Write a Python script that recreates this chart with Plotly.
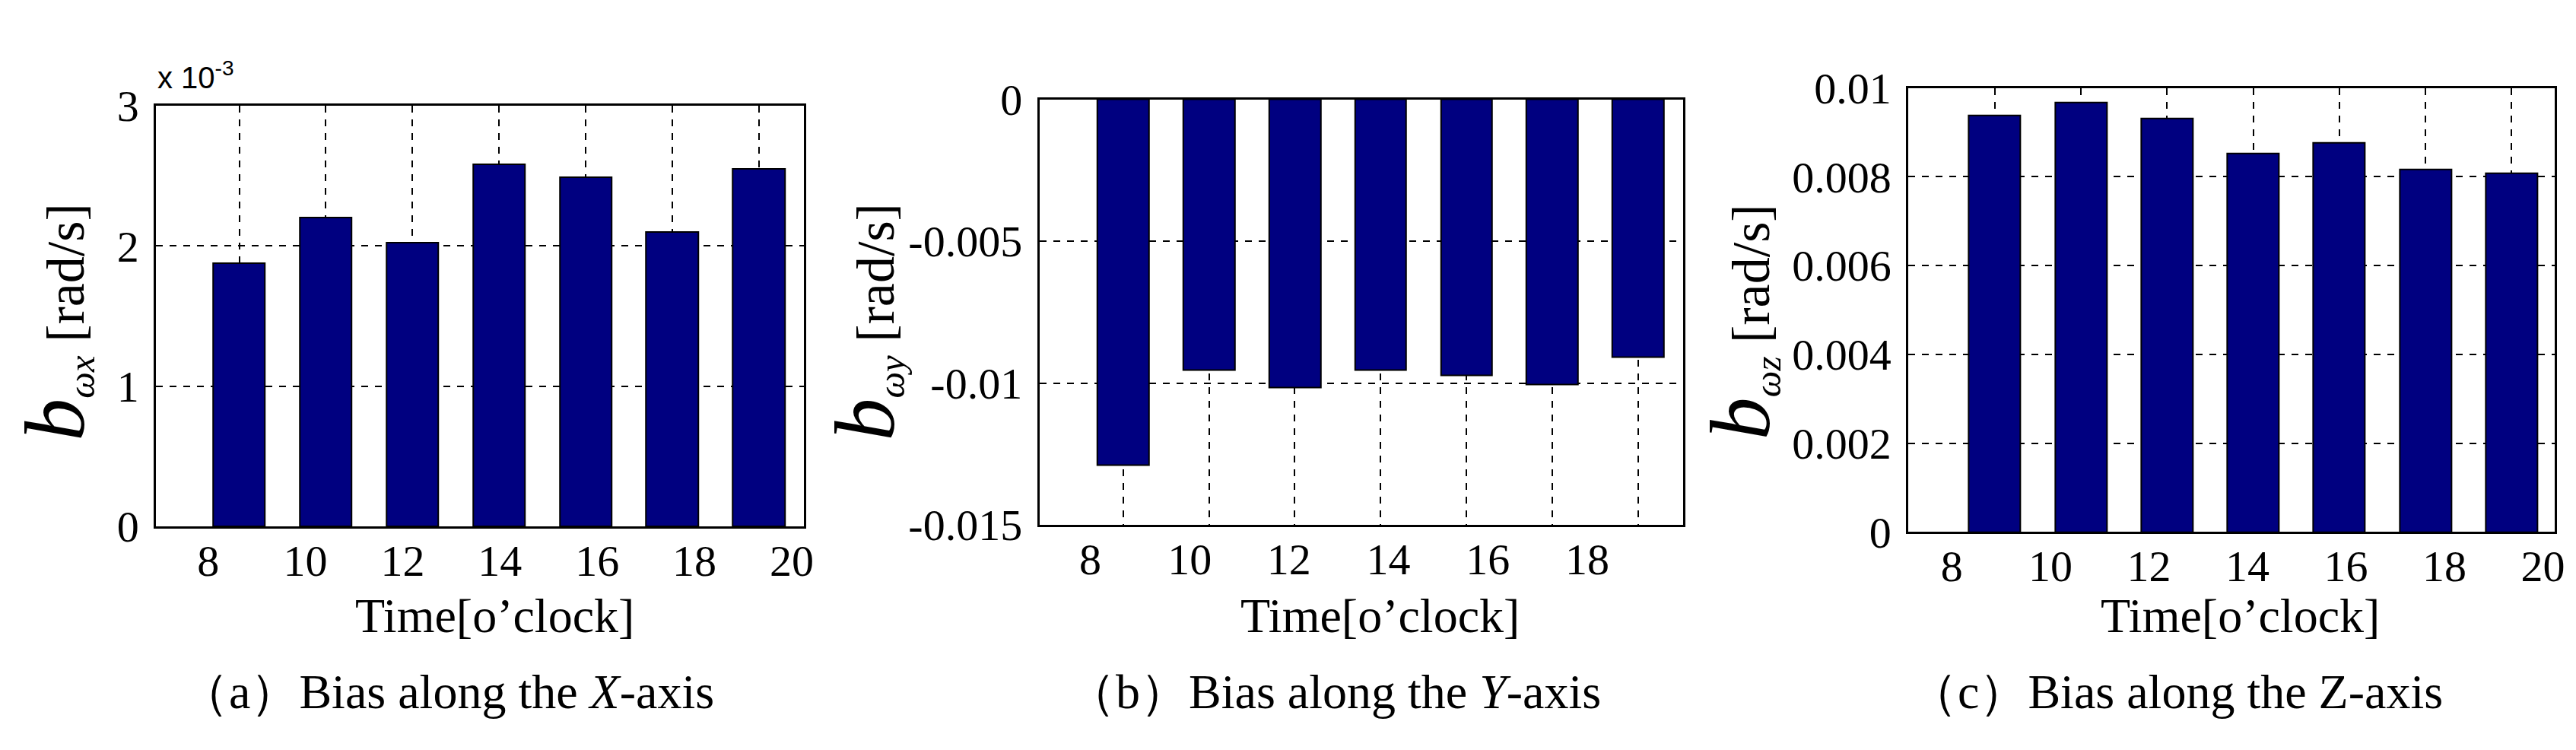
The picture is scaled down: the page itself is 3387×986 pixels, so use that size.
import plotly.graph_objects as go

W, H = 3387, 986

# data
hours = [8, 10, 12, 14, 16, 18, 20]
bias_x = [1.876e-3, 2.20e-3, 2.025e-3, 2.58e-3, 2.49e-3, 2.10e-3, 2.55e-3]
bias_y = [-0.01289, -0.00954, -0.01016, -0.00954, -0.00972, -0.01005, -0.0091]
bias_z = [0.00939, 0.00967, 0.00932, 0.00853, 0.00877, 0.00817, 0.00809]

x_ticks = [8, 10, 12, 14, 16, 18, 20]
y_ticks_a = [0, 1e-3, 2e-3, 3e-3]
y_text_a = ["0", "1", "2", "3"]
y_ticks_b = [0, -0.005, -0.01, -0.015]
y_text_b = ["0", "-0.005", "-0.01", "-0.015"]
y_ticks_c = [0, 0.002, 0.004, 0.006, 0.008, 0.01]
y_text_c = ["0", "0.002", "0.004", "0.006", "0.008", "0.01"]

FONT = "Liberation Serif"
NAVY = "#000080"

panels = [
    # data, px left/right, px top/bottom, bar-axis range, label-axis range, y range, ticks
    dict(v=bias_x, x0=198, x1=1053, t=106, b=698, br=[0.04, 7.52], lr=[6.93, 20.25],
         yr=[0, 3e-3], yt=y_ticks_a, ytt=y_text_a),
    dict(v=bias_y, x0=1364, x1=2213, t=97, b=696, br=[0.025, 7.52], lr=[6.98, 19.92],
         yr=[-0.015, 0], yt=y_ticks_b, ytt=y_text_b),
    dict(v=bias_z, x0=2511, x1=3364, t=81, b=706, br=[0.0, 7.5], lr=[7.12, 20.24],
         yr=[0, 0.01], yt=y_ticks_c, ytt=y_text_c),
]

fig = go.Figure()
pos = list(range(1, len(hours) + 1))

for i, p in enumerate(panels):
    n = i + 1
    xa = "x" if n == 1 else f"x{n}"
    ya = "y" if n == 1 else f"y{n}"
    fig.add_trace(go.Bar(
        x=pos, y=p["v"], width=0.6, xaxis=xa, yaxis=ya,
        marker=dict(color=NAVY, line=dict(color="black", width=2)),
        showlegend=False,
    ))
    # invisible trace so the hour-label axis gets drawn
    fig.add_trace(go.Scatter(
        x=hours, y=[p["yr"][0]] * len(hours), xaxis=f"x{n + 3}", yaxis=ya,
        mode="markers", marker=dict(opacity=0), showlegend=False, hoverinfo="skip",
    ))
    dom_x = [p["x0"] / W, p["x1"] / W]
    dom_y = [1 - p["b"] / H, 1 - p["t"] / H]
    fig.layout[f"xaxis{n if n > 1 else ''}"] = dict(
        domain=dom_x, anchor=ya, range=p["br"], tickvals=pos, showticklabels=False,
        showgrid=True, gridcolor="black", griddash="dash", gridwidth=2,
        showline=True, linecolor="black", linewidth=3, mirror=True,
        zeroline=False, ticks="",
    )
    fig.layout[f"yaxis{n if n > 1 else ''}"] = dict(
        domain=dom_y, anchor=xa, range=p["yr"], tickvals=p["yt"], ticktext=p["ytt"],
        showgrid=True, gridcolor="black", griddash="dash", gridwidth=2,
        showline=True, linecolor="black", linewidth=3, mirror=True,
        zeroline=False, ticks="", ticklabelstandoff=8,
        tickfont=dict(family=FONT, size=58, color="black"),
    )
    # separate axis that carries the hour labels
    fig.layout[f"xaxis{n + 3}"] = dict(
        domain=dom_x, anchor=ya, overlaying=xa, range=p["lr"], tickvals=x_ticks,
        showgrid=False, showline=False, zeroline=False, ticks="", side="bottom",
        tickfont=dict(family=FONT, size=58, color="black"), ticklabelstandoff=6,
    )

ytitles = [("ωx", 65), ("ωy", 1134), ("ωz", 2290)]
for sub, xc in ytitles:
    fig.add_annotation(
        x=xc / W, y=1 - 410 / H, xref="paper", yref="paper", textangle=-90,
        xanchor="center", yanchor="middle",
        showarrow=False, font=dict(family=FONT, size=70, color="black"),
        text=f"<i><span style='font-size:112px'>b</span><sub>{sub}</sub></i> [rad/s]",
    )

for xc in [645, 1813, 2949]:
    fig.add_annotation(x=xc / W, y=1 - 824 / H, xref="paper", yref="paper",
                       xanchor="center", yanchor="middle",
                       showarrow=False, text="Time[o’clock]",
                       font=dict(family=FONT, size=64, color="black"))

captions = [("（a）Bias along the <i>X</i>-axis", 582),
            ("（b）Bias along the <i>Y</i>-axis", 1753),
            ("（c）Bias along the Z-axis", 2864)]
for txt, xc in captions:
    fig.add_annotation(x=xc / W, y=1 - 931 / H, xref="paper", yref="paper",
                       xanchor="center", yanchor="middle",
                       showarrow=False, text=txt,
                       font=dict(family=FONT, size=64, color="black"))

fig.add_annotation(x=198 / W, y=1 - 63 / H, xref="paper", yref="paper",
                   xanchor="left", yanchor="middle", showarrow=False,
                   text="x 10<sup>-3</sup>",
                   font=dict(family="Liberation Sans", size=40, color="black"))

fig.update_layout(
    width=W, height=H, margin=dict(l=0, r=0, t=0, b=0),
    paper_bgcolor="white", plot_bgcolor="white", bargap=0,
)

fig.write_html("out.html")
